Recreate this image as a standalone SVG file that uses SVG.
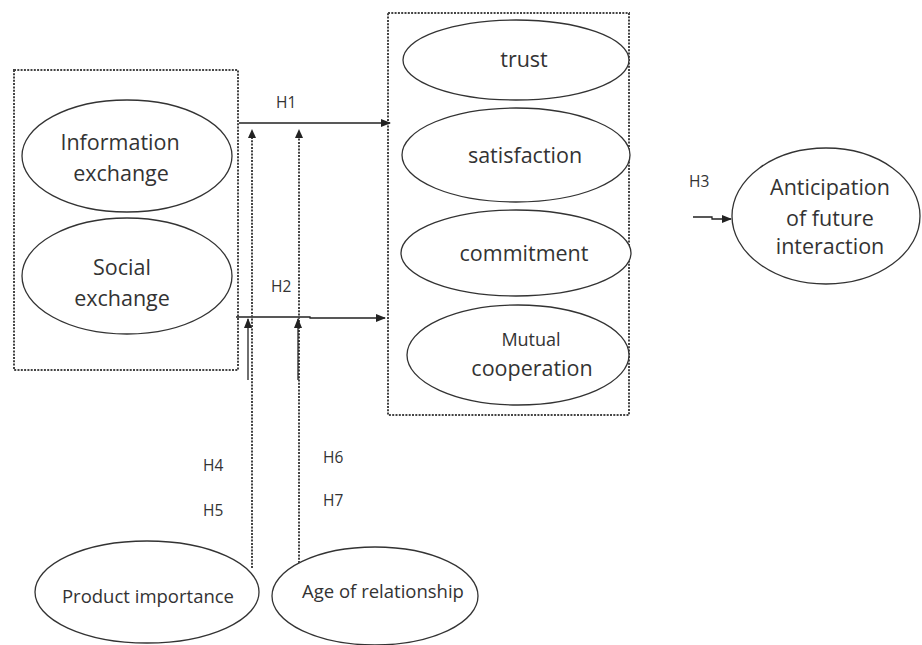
<svg xmlns="http://www.w3.org/2000/svg" width="922" height="645" viewBox="0 0 922 645">
<style>
.bg{fill:#fff}
.box{fill:none;stroke:#444;stroke-width:2;stroke-dasharray:2 1.3}
.ell{fill:#fff;stroke:#333;stroke-width:1.3}
.t{font-family:"Open Sans","Noto Sans",sans-serif;fill:#333;text-anchor:middle}
.lg{font-size:21.5px}
.sm{font-size:18.5px}
.mu{font-size:18px}
.h{font-family:"Open Sans","Noto Sans",sans-serif;font-size:15.5px;fill:#333}
.ln{stroke:#222;stroke-width:1.3;fill:none}
.dot{stroke:#444;stroke-width:2;stroke-dasharray:2 1.3;fill:none}
</style>
<defs>
<marker id="ah" markerWidth="10" markerHeight="8" refX="9" refY="4" orient="auto" markerUnits="userSpaceOnUse">
<path d="M0,0 L10,4 L0,8 Z" fill="#222"/>
</marker>
</defs>
<rect class="bg" width="922" height="645"/>
<g id="group-left"><rect class="box" x="14" y="70" width="224" height="300"/></g>
<g id="group-right"><rect class="box" x="388" y="13" width="241" height="402"/></g>
<g id="information-exchange">
<ellipse class="ell" cx="127" cy="156" rx="105" ry="56"/>
<text class="t lg" x="120" y="150">Information</text>
<text class="t lg" x="121" y="181">exchange</text>
</g>
<g id="social-exchange">
<ellipse class="ell" cx="127" cy="276" rx="105" ry="58"/>
<text class="t lg" x="122" y="275">Social</text>
<text class="t lg" x="122" y="306">exchange</text>
</g>
<g id="trust">
<ellipse class="ell" cx="516" cy="60" rx="113" ry="40"/>
<text class="t lg" x="524" y="67">trust</text>
</g>
<g id="satisfaction">
<ellipse class="ell" cx="516" cy="155" rx="114" ry="47"/>
<text class="t lg" x="525" y="163">satisfaction</text>
</g>
<g id="commitment">
<ellipse class="ell" cx="516" cy="253" rx="115" ry="43"/>
<text class="t lg" x="524" y="261">commitment</text>
</g>
<g id="mutual-cooperation">
<ellipse class="ell" cx="518" cy="355" rx="111" ry="50"/>
<text class="t mu" x="531" y="346">Mutual</text>
<text class="t lg" x="532" y="376">cooperation</text>
</g>
<g id="anticipation">
<ellipse class="ell" cx="826" cy="216" rx="94" ry="68"/>
<text class="t lg" x="830" y="195">Anticipation</text>
<text class="t lg" x="830" y="226">of future</text>
<text class="t lg" x="830" y="254">interaction</text>
</g>
<g id="product-importance">
<ellipse class="ell" cx="147" cy="592" rx="112" ry="51"/>
<text class="t sm" x="148" y="603">Product importance</text>
</g>
<g id="age-of-relationship">
<ellipse class="ell" cx="375" cy="596" rx="103" ry="49"/>
<text class="t sm" x="383" y="598">Age of relationship</text>
</g>
<g id="connectors">
<line class="ln" x1="239" y1="123" x2="390" y2="123" marker-end="url(#ah)"/>
<polyline class="ln" points="236,317 310,317 310,318 385,318" marker-end="url(#ah)"/>
<polyline class="ln" points="693,217 712,217 712,219 731,219" marker-end="url(#ah)"/>
<line class="dot" x1="252" y1="568" x2="252" y2="138"/>
<path d="M248,138 L252,129 L256,138 Z" fill="#222"/>
<line class="dot" x1="299" y1="563" x2="299" y2="138"/>
<path d="M295,138 L299,129 L303,138 Z" fill="#222"/>
<line class="ln" x1="248" y1="380" x2="248" y2="319" marker-end="url(#ah)"/>
<line class="ln" x1="298" y1="380" x2="298" y2="319" marker-end="url(#ah)"/>
<text class="h" x="276" y="108">H1</text>
<text class="h" x="271" y="292">H2</text>
<text class="h" x="689" y="187">H3</text>
<text class="h" x="203" y="471">H4</text>
<text class="h" x="203" y="516">H5</text>
<text class="h" x="323" y="463">H6</text>
<text class="h" x="323" y="506">H7</text>
</g>
</svg>
